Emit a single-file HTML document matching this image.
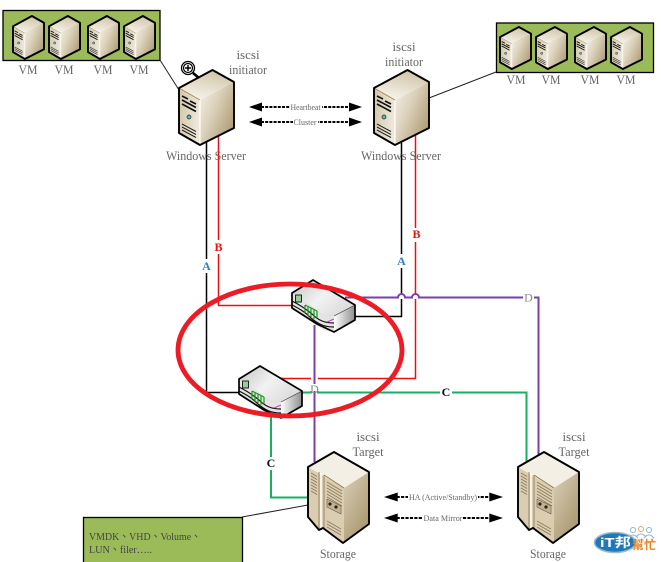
<!DOCTYPE html>
<html><head><meta charset="utf-8"><style>
html,body{margin:0;padding:0;background:#fff}
svg{display:block}
text{font-family:"Liberation Serif","Noto Sans CJK TC",serif;fill:#666}
.l{font-size:13px;text-anchor:middle}
.s{font-size:8px;text-anchor:middle;fill:#666}
.t{font-weight:bold;font-size:12px;text-anchor:middle}
.o{vector-effect:non-scaling-stroke}
</style></head><body>
<svg width="661" height="562" viewBox="0 0 661 562" xmlns="http://www.w3.org/2000/svg">
<defs>
<linearGradient id="side" x1="0" y1="0" x2="1" y2="0.75"><stop offset="0" stop-color="#f6f3ec"/><stop offset=".45" stop-color="#dcd2bc"/><stop offset="1" stop-color="#ac9a72"/></linearGradient>
<linearGradient id="front" x1="0" y1="0" x2="1" y2="0.2"><stop offset="0" stop-color="#d2c6a8"/><stop offset="1" stop-color="#eee8da"/></linearGradient>
<linearGradient id="top" x1="0.7" y1="0" x2="0.3" y2="1"><stop offset="0" stop-color="#cfc3a4"/><stop offset="1" stop-color="#f8f5ee"/></linearGradient>
<linearGradient id="swSide" x1="0" y1="0" x2="1" y2="0"><stop offset="0" stop-color="#fff"/><stop offset="1" stop-color="#8e8e8e"/></linearGradient>
<linearGradient id="swTop" x1="0" y1="0" x2="1" y2="0.6"><stop offset="0" stop-color="#c4c4c4"/><stop offset=".55" stop-color="#f2f2f2"/><stop offset="1" stop-color="#dcdcdc"/></linearGradient>
<g id="srv" stroke-linejoin="round">
<polygon points="0,18 21,30 21,75 0,63" fill="url(#front)"/>
<polygon points="0,18 33.5,0 55,12 21,30" fill="url(#top)"/>
<polygon points="21,30 55,12 55,58 21,75" fill="url(#side)"/>
<path d="M21,30V75" stroke="#fff" stroke-width="1.2"/>
<path d="M0,18L21,30" stroke="#a5814f" stroke-width=".8" fill="none"/>
<path d="M3,26l6,3M11,31l6,3M3,30l14,7.500M3,34l14,7.500" stroke="#111" stroke-width="1.600"/>
<circle cx="10" cy="47" r="2" fill="#5bb" stroke="#222" stroke-width=".7"/>
<path d="M3,54l14,7.500M3,57l14,7.500M3,60l14,7.500" stroke="#222" stroke-width="1"/>
<polygon class="o" points="0,18 33.5,0 55,12 55,58 21,75 0,63" fill="none" stroke="#000" stroke-width="1.900"/>
</g>
<g id="sto" stroke-linejoin="round">
<polygon points="0,15 26,0 61,20 61,72 35,91 15,76 11,78 0,65" fill="url(#side)"/>
<polygon points="0,15 11,21 16,24 36,36 36,90 15,76 11,78 0,65" fill="#dacdb0"/>
<polygon points="0,15 26,0 61,20 36,36" fill="#f4efe4"/>
<path d="M13,21V76" stroke="#fff" stroke-width="1.500"/>
<path d="M11,20V77M16,23V76M16,23L36,36" stroke="#8a7350" stroke-width=".8" fill="none"/>
<path d="M3,21l6,3.500M3,24l6,3.500M3,27l6,3.500M3,30l6,3.500M3,33l6,3.500M3,36l6,3.500M3,39l6,3.500M19,30l15,9M19,33l15,9M19,36l15,9M19,39l15,9M19,42l15,9M19,45l15,9M19,69l14,8M19,72l14,8M19,75l14,8" stroke="#8a7a5c" stroke-width=".75"/>
<polygon points="19,47 33,54 33,62 19,55" fill="#c4b48e" stroke="#655" stroke-width=".6"/>
<circle cx="22" cy="52" r="1.600" fill="#222"/><circle cx="28" cy="55" r="1.600" fill="#222"/>
<polygon points="0,15 26,0 61,20 61,72 35,91 15,76 11,78 0,65" fill="none" stroke="#000" stroke-width="1.900"/>
</g>
<g id="sw" stroke-linejoin="round">
<polygon points="0,13 21,0 63,25 63,40 42,52 25,44 0,28" fill="#bbb"/>
<path d="M0,13L21,0L63,25L42,36C32,36 27,33 22,28C17,24 8,18 0,13Z" fill="url(#swTop)"/>
<polygon points="42,36 63,25 63,40 42,52" fill="url(#swSide)"/>
<path d="M0,13C8,18 17,24 22,28C27,33 32,36 42,36V52C32,52 26,46 20,42C12,37 5,33 0,28Z" fill="#e4e4e4"/>
<path d="M0,21C8,25 14,29 20,34C26,40 32,43 42,43M0,25C8,29 13,32 19,38C26,44 32,47 42,47" fill="none" stroke="#111" stroke-width="1.200"/>
<rect x="3.500" y="15" width="6" height="7" fill="#9c9" stroke="#222" stroke-width="1"/>
<path d="M13,25v8M16,27v9M19,28v9M22,30v9M25,31v7M13,25l12,6" stroke="#1a9a1a" stroke-width="1.200" fill="none"/>
<path d="M35,42l7,-3" stroke="#d040d0" stroke-width="1.100"/>
<path d="M42,36L63,25" stroke="#333" stroke-width=".7"/>
<polygon points="0,13 21,0 63,25 63,40 42,52 25,44 0,28" fill="none" stroke="#000" stroke-width="1.700"/>
</g>
<g id="dbl">
<polygon points="0,0 13,-4.500 13,4.500" fill="#000"/>
<polygon points="113,0 100,-4.500 100,4.500" fill="#000"/>
<line x1="12" y1="0" x2="101" y2="0" stroke="#000" stroke-width="2" stroke-dasharray="3,1.200"/>
</g>
</defs>

<rect x="3" y="10.500" width="157" height="50" fill="#9bbb59" stroke="#000" stroke-width="1.300"/>
<rect x="496.500" y="23" width="157" height="49.500" fill="#9bbb59" stroke="#000" stroke-width="1.300"/>
<g transform="translate(83,517)"><rect x=".5" y=".5" width="159" height="60" fill="#9bbb59" stroke="#000" stroke-width="1.300"/></g>

<g fill="none" stroke-width="1">
<path d="M160,60L179,90M429,98L496,72M242,517L308,505" stroke="#222"/>
</g>

<g fill="none" stroke-width="1.500">
<path d="M206.500,140V392.500H245" stroke="#000"/>
<path d="M401.500,140V295M401.500,299V316.500H350" stroke="#000"/>
<path d="M218.500,133V305.500H296" stroke="#e81010"/>
<path d="M415.500,133V295M415.500,299V378.500H318M311,378.500H280" stroke="#e81010"/>
</g>
<g fill="none" stroke-width="2">
<path d="M345,297.500H398a3.500,3.500 0 0 1 7,0H412a3.500,3.500 0 0 1 7,0H538.500V462" stroke="#7b3fa8"/>
<path d="M314.500,325V462" stroke="#7b3fa8"/>
<path d="M300,392.500H311a3.500,3.500 0 0 1 7,0H526.500V462" stroke="#17b060"/>
<path d="M271,412V497.500H310" stroke="#17b060"/>
</g>

<use href="#srv" x="179" y="70"/>
<use href="#srv" x="374" y="70"/>
<g transform="translate(13,16) scale(.564,.573)"><use href="#srv"/></g>
<g transform="translate(49,16) scale(.564,.573)"><use href="#srv"/></g>
<g transform="translate(88,16) scale(.564,.573)"><use href="#srv"/></g>
<g transform="translate(124,16) scale(.564,.573)"><use href="#srv"/></g>
<g transform="translate(500,27) scale(.564,.56)"><use href="#srv"/></g>
<g transform="translate(536,27) scale(.564,.56)"><use href="#srv"/></g>
<g transform="translate(575,27) scale(.564,.56)"><use href="#srv"/></g>
<g transform="translate(611,27) scale(.564,.56)"><use href="#srv"/></g>
<use href="#sto" x="308" y="452"/>
<use href="#sto" x="518" y="452"/>
<use href="#sw" x="292" y="280"/>
<use href="#sw" x="239" y="366"/>

<ellipse cx="290" cy="350" rx="112" ry="66" fill="none" stroke="#ed1c24" stroke-width="4.800"/>

<use href="#dbl" x="249" y="107"/>
<use href="#dbl" x="249" y="122"/>
<g transform="translate(384,497) scale(1.053,1)"><use href="#dbl"/></g>
<g transform="translate(384,518) scale(1.053,1)"><use href="#dbl"/></g>
<rect x="290" y="103" width="32" height="8" fill="#fff"/>
<rect x="293" y="118" width="25" height="8" fill="#fff"/>
<rect x="408" y="493" width="70" height="8" fill="#fff"/>
<rect x="423" y="514" width="40" height="8" fill="#fff"/>
<text class="s" x="305.500" y="110" textLength="30" lengthAdjust="spacingAndGlyphs">Heartbeat</text>
<text class="s" x="305" y="125" textLength="23" lengthAdjust="spacingAndGlyphs">Cluster</text>
<text class="s" x="443" y="500" textLength="68" lengthAdjust="spacingAndGlyphs">HA (Active/Standby)</text>
<text class="s" x="443" y="521" textLength="39" lengthAdjust="spacingAndGlyphs">Data Mirror</text>

<text class="l" x="28" y="74" textLength="19" lengthAdjust="spacingAndGlyphs">VM</text>
<text class="l" x="64" y="74" textLength="19" lengthAdjust="spacingAndGlyphs">VM</text>
<text class="l" x="103" y="74" textLength="19" lengthAdjust="spacingAndGlyphs">VM</text>
<text class="l" x="139" y="74" textLength="19" lengthAdjust="spacingAndGlyphs">VM</text>
<text class="l" x="516" y="84" textLength="19" lengthAdjust="spacingAndGlyphs">VM</text>
<text class="l" x="551" y="84" textLength="19" lengthAdjust="spacingAndGlyphs">VM</text>
<text class="l" x="590" y="84" textLength="19" lengthAdjust="spacingAndGlyphs">VM</text>
<text class="l" x="626" y="84" textLength="19" lengthAdjust="spacingAndGlyphs">VM</text>

<text class="l" x="248" y="59">iscsi</text>
<text class="l" x="248" y="74" textLength="38" lengthAdjust="spacingAndGlyphs">initiator</text>
<text class="l" x="404" y="51">iscsi</text>
<text class="l" x="404" y="66" textLength="38" lengthAdjust="spacingAndGlyphs">initiator</text>
<text class="l" x="206" y="160" textLength="80" lengthAdjust="spacingAndGlyphs">Windows Server</text>
<text class="l" x="401" y="160" textLength="80" lengthAdjust="spacingAndGlyphs">Windows Server</text>
<text class="l" x="368" y="441">iscsi</text>
<text class="l" x="368" y="456" textLength="31" lengthAdjust="spacingAndGlyphs">Target</text>
<text class="l" x="574" y="441">iscsi</text>
<text class="l" x="574" y="456" textLength="31" lengthAdjust="spacingAndGlyphs">Target</text>
<text class="l" x="338" y="558" textLength="36" lengthAdjust="spacingAndGlyphs">Storage</text>
<text class="l" x="548" y="558" textLength="36" lengthAdjust="spacingAndGlyphs">Storage</text>

<text x="89" y="540" font-size="11" style="fill:#444" textLength="112" lengthAdjust="spacingAndGlyphs">VMDK、VHD、Volume、</text>
<text x="89" y="553" font-size="11" style="fill:#444" textLength="63" lengthAdjust="spacingAndGlyphs">LUN、filer…..</text>

<rect x="200" y="259" width="13" height="14" fill="#fff"/>
<text class="t" x="206.500" y="270" style="fill:#2b83c9">A</text>
<rect x="212" y="240" width="13" height="14" fill="#fff"/>
<text class="t" x="218.500" y="251" style="fill:#e81010">B</text>
<rect x="395" y="254" width="13" height="14" fill="#fff"/>
<text class="t" x="401.500" y="265" style="fill:#2b83c9">A</text>
<rect x="409" y="228" width="13" height="14" fill="#fff"/>
<text class="t" x="416.500" y="238" style="fill:#e81010">B</text>
<rect x="523" y="291" width="11" height="13" fill="#fff"/>
<text class="t" x="528.500" y="301.500" style="fill:#888;font-weight:normal">D</text>
<rect x="309" y="384" width="11" height="7" fill="#fff"/>
<text class="t" x="314.500" y="393" style="fill:#888;font-weight:normal">D</text>
<rect x="440" y="386" width="12" height="13" fill="#fff"/>
<text class="t" x="446" y="396" style="fill:#111">C</text>
<rect x="265" y="457" width="12" height="13" fill="#fff"/>
<text class="t" x="271" y="467" style="fill:#111">C</text>

<g>
<circle cx="188" cy="68" r="6.500" fill="#fff" stroke="#000" stroke-width="1.300"/>
<circle cx="188" cy="68" r="4.500" fill="#fff" stroke="#000" stroke-width="1.200"/>
<path d="M185,68h6M188,65v6" stroke="#000" stroke-width="1.500"/>
<path d="M193,73L199,78" stroke="#000" stroke-width="2.500"/>
</g>

<g>
<circle cx="633" cy="530" r="2.500" fill="#fff" stroke="#8ab4d8"/>
<circle cx="641" cy="529" r="2.500" fill="#fff" stroke="#e8a070"/>
<circle cx="649" cy="530" r="2.500" fill="#fff" stroke="#8ab4d8"/>
<path d="M628,538q5,-6 10,0M636,537q5,-6 10,0M644,538q5,-6 10,0" fill="none" stroke="#8ab4d8"/>
<ellipse cx="615" cy="542.500" rx="20.500" ry="10" fill="#1f78b8" stroke="#9fb8cc" stroke-width="1.500"/>
<text x="600" y="547" font-size="13" font-weight="bold" style="font-family:'Liberation Sans','Noto Sans CJK TC',sans-serif;fill:#fff" textLength="31" lengthAdjust="spacingAndGlyphs">iT邦</text>
<text x="632" y="549" font-size="12" font-weight="bold" style="font-family:'Liberation Sans','Noto Sans CJK TC',sans-serif;fill:#e8822a" textLength="24" lengthAdjust="spacingAndGlyphs">幫忙</text>
</g>
</svg>
</body></html>
